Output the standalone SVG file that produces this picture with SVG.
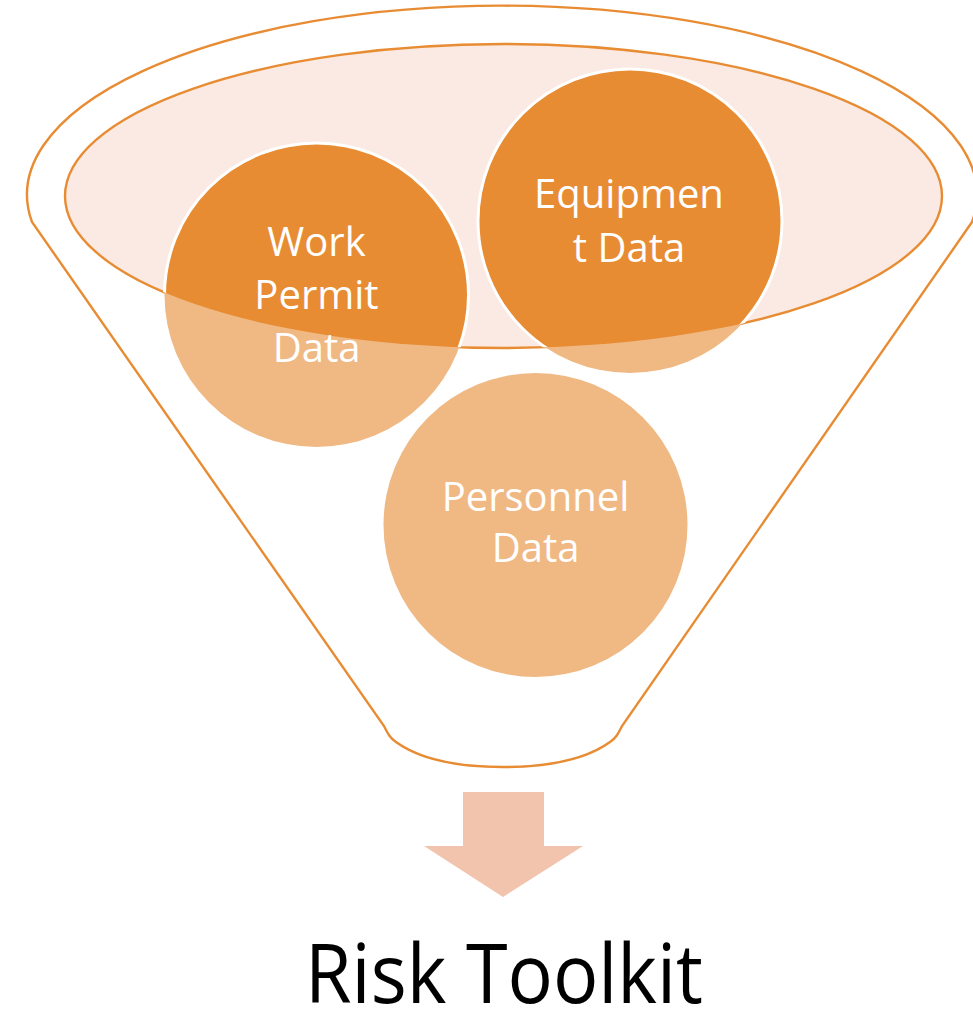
<svg xmlns="http://www.w3.org/2000/svg" width="973" height="1012" viewBox="0 0 973 1012">
<style>
.lbl{font-family:"Open Sans","Noto Sans","Liberation Sans",sans-serif;font-size:40px;fill:#FFFFFF;text-anchor:middle}
.light{fill:#F0B984}
.dark{fill:#E88C33;stroke:#FFFFFF;stroke-width:3}
.outline{fill:none;stroke:#E88C33;stroke-width:2.4}
</style>
<defs>
<clipPath id="topClip"><ellipse cx="503.5" cy="196" rx="438.5" ry="152"/></clipPath>
</defs>
<g id="funnel">
<path class="outline" d="M32,222 A475,189 0 1 1 972,222 L622,726 C618,734 616,738 610,742 C585,760 545,767 503,767 C461,767 421,760 396,742 C390,738 388,734 384,726 Z"/>
<ellipse cx="503.5" cy="196" rx="438.5" ry="152" fill="#FAEAE3" stroke="#E88C33" stroke-width="2.4"/>
</g>
<g id="node-work-permit">
<circle class="light" cx="316.5" cy="295" r="152"/>
<circle class="dark" cx="316.5" cy="295" r="152" clip-path="url(#topClip)"/>
<text class="lbl" x="316.5" y="256">Work</text>
<text class="lbl" x="316.5" y="309">Permit</text>
<text class="lbl" x="316.5" y="362">Data</text>
</g>
<g id="node-equipment">
<circle class="light" cx="630" cy="221" r="152"/>
<circle class="dark" cx="630" cy="221" r="152" clip-path="url(#topClip)"/>
<text class="lbl" x="629" y="208">Equipmen</text>
<text class="lbl" x="629" y="262">t Data</text>
</g>
<g id="node-personnel">
<circle class="light" cx="535.5" cy="525" r="152"/>
<text class="lbl" x="535.5" y="511">Personnel</text>
<text class="lbl" x="535.5" y="562">Data</text>
</g>
<g id="connectors">
<polygon fill="#F2C4AD" points="463,792 544,792 544,846 583,846 503,897 424,846 463,846"/>
</g>
<g id="node-risk-toolkit">
<text x="305" y="1003" font-family="'Open Sans','Noto Sans','Liberation Sans',sans-serif" font-size="82" fill="#000000" textLength="398" lengthAdjust="spacingAndGlyphs">Risk Toolkit</text>
</g>
</svg>
